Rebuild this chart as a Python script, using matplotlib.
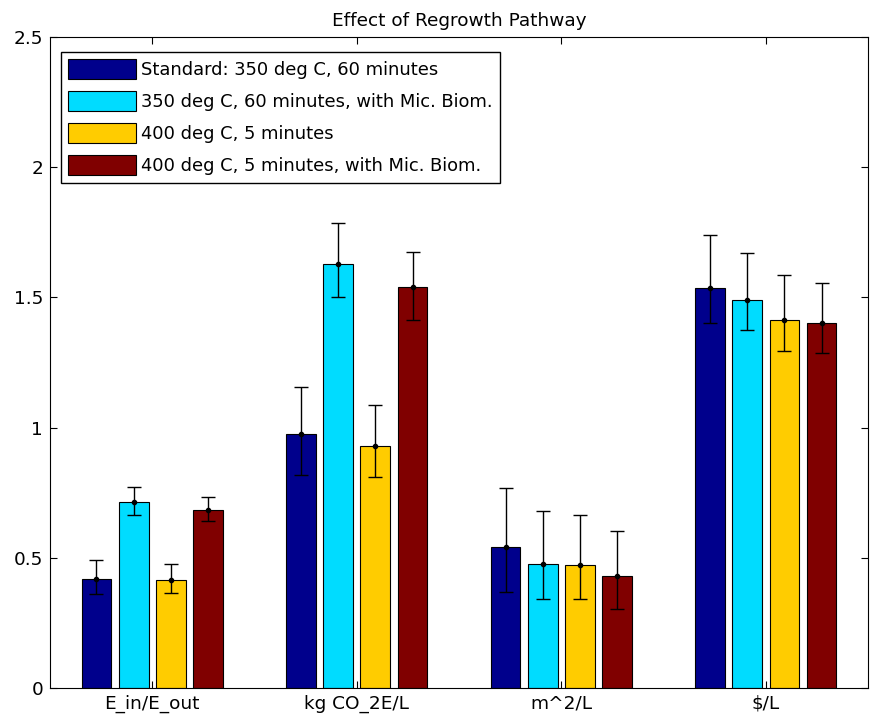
import matplotlib.pyplot as plt
import numpy as np

plt.rcParams['font.family'] = ['DejaVu Sans']

# categories and series
categories = ["E_in/E_out", "kg CO_2E/L", "m^2/L", "$/L"]
series_names = ["Standard: 350 deg C, 60 minutes",
                "350 deg C, 60 minutes, with Mic. Biom.",
                "400 deg C, 5 minutes",
                "400 deg C, 5 minutes, with Mic. Biom."]

standard = [0.42, 0.975, 0.543, 1.535]
mic_350 = [0.715, 1.63, 0.477, 1.49]
fast_400 = [0.415, 0.93, 0.471, 1.414]
mic_400 = [0.685, 1.54, 0.429, 1.402]

# lower / upper error lengths
standard_lo = [0.06, 0.157, 0.173, 0.132]
standard_hi = [0.07, 0.182, 0.224, 0.205]
mic_350_lo = [0.049, 0.13, 0.137, 0.115]
mic_350_hi = [0.057, 0.156, 0.203, 0.18]
fast_400_lo = [0.05, 0.12, 0.131, 0.12]
fast_400_hi = [0.062, 0.157, 0.193, 0.172]
mic_400_lo = [0.045, 0.127, 0.124, 0.114]
mic_400_hi = [0.05, 0.134, 0.175, 0.154]

values = [standard, mic_350, fast_400, mic_400]
lows = [standard_lo, mic_350_lo, fast_400_lo, mic_400_lo]
highs = [standard_hi, mic_350_hi, fast_400_hi, mic_400_hi]
colors = ["#00008c", "#00dcff", "#ffcc00", "#800000"]

fig = plt.figure(figsize=(8.74, 7.25), dpi=100)
ax = fig.add_axes([0.0572, 0.051, 0.936, 0.898])

x = np.arange(1, len(categories) + 1)
step = 0.7273 / 4
width = step * 0.8
for i in range(4):
    pos = x + (i - 1.5) * step
    ax.bar(pos, values[i], width, color=colors[i], edgecolor="black",
           linewidth=0.8, label=series_names[i], zorder=2)
    ax.errorbar(pos, values[i], yerr=[lows[i], highs[i]], fmt="o", color="black",
                markersize=3, elinewidth=1, capsize=5, capthick=1, zorder=3)

fs = 13.3
ax.set_xlim(0.5, 4.5)
ax.set_ylim(0, 2.5)
ax.set_xticks(x)
ax.set_xticklabels(categories, fontsize=fs)
ax.set_yticks([0, 0.5, 1, 1.5, 2, 2.5])
ax.set_yticklabels(["0", "0.5", "1", "1.5", "2", "2.5"], fontsize=fs)
ax.tick_params(direction="in", top=True, right=True, length=5)
ax.tick_params(axis="x", pad=5)
ax.tick_params(axis="y", pad=5)
ax.set_title("Effect of Regrowth Pathway", fontsize=fs, pad=8)

leg = ax.legend(loc="upper left", bbox_to_anchor=(0.0134, 0.977), fontsize=12.9,
                handlelength=3.75, handleheight=1.3, fancybox=False,
                edgecolor="black", framealpha=1, borderaxespad=0,
                labelspacing=0.68, handletextpad=0.3, borderpad=0.42)
leg.get_frame().set_linewidth(1)

fig.savefig("out.png", dpi=100)
